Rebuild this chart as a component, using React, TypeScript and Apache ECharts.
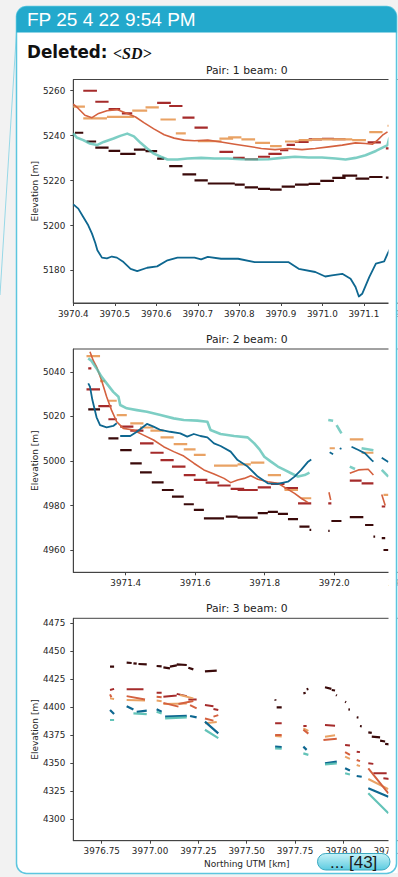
import React, { useEffect, useRef } from "react";
import * as echarts from "echarts";

type Pt = [number, number];
type Dash = [number, number, number]; // x start, x end, elevation
type Seg = [number, number, number, number]; // x0, y0, x1, y1

// ---------- Pair 1 ----------
const P1_XTICKS = [3970.4, 3970.5, 3970.6, 3970.7, 3970.8, 3970.9, 3971.0, 3971.1, 3971.2];
const P1_YTICKS = [5180, 5200, 5220, 5240, 5260];

const p1Maroon: Dash[] = [
  [3970.404, 3970.424, 5241.3], [3970.432, 3970.455, 5237.4], [3970.453, 3970.485, 5234.7],
  [3970.485, 3970.513, 5233.2], [3970.513, 3970.55, 5231.9], [3970.546, 3970.574, 5233.8],
  [3970.574, 3970.602, 5233.1], [3970.602, 3970.619, 5229.8], [3970.631, 3970.663, 5226.4],
  [3970.663, 3970.696, 5222.8], [3970.692, 3970.724, 5220.1], [3970.724, 3970.789, 5218.7],
  [3970.789, 3970.813, 5218.2], [3970.813, 3970.845, 5217.0], [3970.845, 3970.874, 5216.3],
  [3970.874, 3970.902, 5216.0], [3970.902, 3970.934, 5217.3], [3970.934, 3970.967, 5218.2],
  [3970.967, 3970.995, 5218.5], [3970.995, 3971.028, 5219.9], [3971.024, 3971.056, 5221.2],
  [3971.048, 3971.084, 5222.2], [3971.08, 3971.113, 5220.9], [3971.113, 3971.145, 5221.6],
  [3971.153, 3971.17, 5221.3],
];
const p1DarkRed: Dash[] = [
  [3970.424, 3970.457, 5260.0], [3970.453, 3970.485, 5255.1], [3970.485, 3970.513, 5251.8],
  [3970.517, 3970.542, 5249.9], [3970.602, 3970.635, 5254.6], [3970.631, 3970.663, 5253.2],
  [3970.663, 3970.692, 5248.0], [3970.692, 3970.724, 5243.6], [3970.752, 3970.785, 5232.8],
  [3970.785, 3970.813, 5230.1], [3970.813, 3970.845, 5229.5], [3970.845, 3970.874, 5230.6],
  [3970.87, 3970.902, 5231.9], [3970.898, 3970.918, 5233.5], [3970.914, 3970.934, 5235.9],
  [3970.934, 3970.967, 5237.2], [3970.967, 3970.999, 5238.3], [3970.999, 3971.028, 5238.6],
  [3971.024, 3971.056, 5238.4], [3971.109, 3971.141, 5237.0], [3971.153, 3971.17, 5234.3],
];
const p1Orange: Dash[] = [
  [3970.4, 3970.428, 5252.9], [3970.424, 3970.481, 5247.7], [3970.481, 3970.546, 5248.4],
  [3970.542, 3970.578, 5251.1], [3970.574, 3970.606, 5252.6], [3970.61, 3970.647, 5247.2],
  [3970.647, 3970.671, 5241.0], [3970.7, 3970.757, 5237.5], [3970.752, 3970.785, 5238.7],
  [3970.773, 3970.805, 5239.2], [3970.805, 3970.838, 5238.3], [3970.838, 3970.874, 5236.8],
  [3970.874, 3970.902, 5235.3], [3970.91, 3970.943, 5237.4], [3970.943, 3970.975, 5238.0],
  [3970.975, 3971.007, 5238.3], [3971.007, 3971.04, 5238.3], [3971.04, 3971.072, 5238.3],
  [3971.072, 3971.105, 5238.0], [3971.113, 3971.145, 5241.6], [3971.157, 3971.17, 5244.4],
];
const p1Coral: Pt[] = [
  [3970.4, 5254.0], [3970.412, 5252.1], [3970.428, 5249.1], [3970.445, 5248.0], [3970.461, 5249.9],
  [3970.481, 5251.1], [3970.505, 5251.6], [3970.53, 5249.9], [3970.55, 5248.3], [3970.57, 5245.8],
  [3970.594, 5243.0], [3970.619, 5240.4], [3970.643, 5238.9], [3970.667, 5238.0], [3970.692, 5237.7],
  [3970.724, 5238.0], [3970.756, 5237.2], [3970.789, 5236.2], [3970.821, 5235.3], [3970.853, 5234.3],
  [3970.886, 5233.8], [3970.918, 5234.3], [3970.951, 5233.8], [3970.983, 5234.3], [3971.015, 5235.0],
  [3971.048, 5235.8], [3971.08, 5236.8], [3971.104, 5236.5], [3971.121, 5236.2], [3971.133, 5238.0],
  [3971.145, 5240.2], [3971.157, 5241.7],
];
const p1Teal: Pt[] = [
  [3970.4, 5241.1], [3970.408, 5239.2], [3970.424, 5238.0], [3970.44, 5236.5], [3970.457, 5235.8],
  [3970.473, 5237.2], [3970.497, 5238.7], [3970.513, 5239.9], [3970.53, 5240.9], [3970.546, 5239.7],
  [3970.562, 5236.8], [3970.578, 5234.3], [3970.594, 5232.0], [3970.611, 5230.6], [3970.627, 5229.4],
  [3970.651, 5229.4], [3970.675, 5229.8], [3970.708, 5230.1], [3970.74, 5229.8], [3970.772, 5229.8],
  [3970.805, 5229.5], [3970.837, 5229.4], [3970.87, 5229.5], [3970.902, 5230.1], [3970.934, 5230.6],
  [3970.967, 5230.3], [3970.999, 5230.3], [3971.032, 5229.8], [3971.056, 5229.4], [3971.08, 5230.1],
  [3971.104, 5231.3], [3971.129, 5233.2], [3971.145, 5234.7], [3971.157, 5235.8], [3971.161, 5238.7],
  [3971.168, 5239.8],
];
const p1Blue: Pt[] = [
  [3970.4, 5209.4], [3970.412, 5207.5], [3970.424, 5203.8], [3970.436, 5200.1], [3970.445, 5196.4],
  [3970.453, 5192.2], [3970.458, 5189.0], [3970.469, 5185.7], [3970.481, 5185.4], [3970.493, 5186.2],
  [3970.505, 5185.7], [3970.521, 5183.7], [3970.538, 5180.7], [3970.554, 5179.7], [3970.578, 5181.2],
  [3970.602, 5181.8], [3970.627, 5184.5], [3970.651, 5185.7], [3970.692, 5185.7], [3970.708, 5184.9],
  [3970.724, 5186.0], [3970.756, 5185.2], [3970.797, 5185.2], [3970.837, 5183.7], [3970.886, 5183.7],
  [3970.918, 5183.7], [3970.943, 5180.7], [3970.983, 5179.3], [3971.007, 5177.3], [3971.023, 5177.8],
  [3971.048, 5178.5], [3971.068, 5176.3], [3971.08, 5172.6], [3971.088, 5168.4], [3971.096, 5169.6],
  [3971.113, 5177.0], [3971.129, 5183.0], [3971.149, 5184.0], [3971.157, 5187.4], [3971.165, 5190.4],
];

// ---------- Pair 2 ----------
const P2_XTICKS = [3971.4, 3971.6, 3971.8, 3972.0, 3972.2];
const P2_YTICKS = [4960, 4980, 5000, 5020, 5040];

const p2Maroon: Dash[] = [
  [3971.292, 3971.326, 5023.1], [3971.35, 3971.379, 5010.1], [3971.384, 3971.417, 5004.9],
  [3971.413, 3971.446, 4998.9], [3971.441, 3971.475, 4994.9], [3971.475, 3971.509, 4990.4],
  [3971.504, 3971.538, 4987.0], [3971.533, 3971.567, 4984.0], [3971.567, 3971.596, 4980.6],
  [3971.596, 3971.625, 4978.1], [3971.625, 3971.683, 4974.3], [3971.688, 3971.722, 4975.1],
  [3971.722, 3971.78, 4974.6], [3971.78, 3971.809, 4976.6], [3971.809, 3971.838, 4977.2],
  [3971.838, 3971.867, 4976.3], [3971.867, 3971.896, 4973.9], [3971.9, 3971.929, 4970.6],
  [3971.929, 3971.934, 4969.1], [3971.983, 3971.987, 4968.7], [3971.992, 3972.021, 4973.1],
  [3972.045, 3972.084, 4974.8], [3972.089, 3972.113, 4971.3], [3972.113, 3972.118, 4966.1],
  [3972.137, 3972.147, 4965.4], [3972.142, 3972.156, 4960.1],
];
const p2DarkRed: Dash[] = [
  [3971.292, 3971.301, 5041.5], [3971.287, 3971.326, 5032.1], [3971.321, 3971.359, 5024.6],
  [3971.35, 3971.374, 5018.7], [3971.384, 3971.422, 5015.4], [3971.413, 3971.451, 5013.6],
  [3971.441, 3971.48, 5007.9], [3971.471, 3971.509, 5003.7], [3971.5, 3971.538, 5000.4],
  [3971.533, 3971.572, 4997.5], [3971.567, 3971.601, 4993.7], [3971.596, 3971.635, 4991.5],
  [3971.63, 3971.669, 4990.3], [3971.664, 3971.702, 4989.0], [3971.702, 3971.741, 4987.5],
  [3971.722, 3971.78, 4987.0], [3971.78, 3971.818, 4988.2], [3971.818, 3971.857, 4989.7],
  [3971.857, 3971.896, 4987.8], [3971.896, 3971.934, 4981.0], [3971.983, 3971.992, 4981.0],
  [3972.045, 3972.079, 4991.2], [3972.079, 3972.113, 4990.0], [3972.137, 3972.147, 4979.6],
];
const p2Orange: Dash[] = [
  [3971.287, 3971.326, 5047.0], [3971.326, 3971.34, 5035.8], [3971.35, 3971.374, 5027.0],
  [3971.374, 3971.403, 5020.6], [3971.413, 3971.451, 5016.9], [3971.441, 3971.48, 5015.0],
  [3971.471, 3971.509, 5013.6], [3971.5, 3971.538, 5010.6], [3971.538, 3971.577, 5007.6],
  [3971.567, 3971.601, 5005.2], [3971.596, 3971.63, 5002.7], [3971.654, 3971.722, 4997.9],
  [3971.722, 3971.76, 4998.5], [3971.76, 3971.799, 4999.3], [3971.809, 3971.847, 4993.7],
  [3971.857, 3971.896, 4987.0], [3971.905, 3971.934, 4983.3], [3971.987, 3972.002, 5005.7],
  [3972.045, 3972.084, 5009.7], [3972.079, 3972.113, 5003.7], [3972.142, 3972.156, 4984.8],
];
const p2Coral: Pt[][] = [
  [
    [3971.297, 5049.0], [3971.306, 5045.2], [3971.316, 5042.2], [3971.33, 5036.3], [3971.345, 5028.8],
    [3971.359, 5022.8], [3971.374, 5017.6], [3971.393, 5014.6], [3971.422, 5013.9], [3971.451, 5011.6],
    [3971.48, 5009.4], [3971.509, 5006.4], [3971.538, 5004.2], [3971.567, 5002.2], [3971.596, 4999.0],
    [3971.625, 4996.0], [3971.654, 4994.2], [3971.683, 4992.2], [3971.702, 4990.3], [3971.722, 4991.5],
    [3971.741, 4992.2], [3971.76, 4993.4], [3971.78, 4991.8], [3971.809, 4990.7], [3971.838, 4990.0],
    [3971.867, 4987.3], [3971.886, 4985.5], [3971.905, 4983.3], [3971.925, 4981.3],
  ],
  [[3971.985, 4986.0], [3971.99, 4982.5]],
  [[3972.045, 4994.5], [3972.07, 4996.0], [3972.098, 4996.3], [3972.113, 4993.7]],
  [[3972.137, 4985.0], [3972.147, 4980.0]],
];
const p2Teal: Pt[][] = [
  [
    [3971.292, 5046.0], [3971.301, 5044.9], [3971.316, 5041.5], [3971.33, 5037.8], [3971.345, 5034.8],
    [3971.364, 5031.0], [3971.379, 5028.8], [3971.384, 5025.1], [3971.403, 5023.6], [3971.432, 5022.8],
    [3971.461, 5022.1], [3971.5, 5020.6], [3971.538, 5019.1], [3971.567, 5018.4], [3971.606, 5018.1],
    [3971.635, 5017.6], [3971.644, 5013.9], [3971.673, 5012.1], [3971.712, 5011.2], [3971.751, 5010.6],
    [3971.77, 5007.9], [3971.785, 5005.2], [3971.799, 5001.9], [3971.818, 4999.7], [3971.838, 4997.5],
    [3971.857, 4996.0], [3971.876, 4994.5], [3971.896, 4993.0], [3971.915, 4993.7], [3971.929, 4994.8],
  ],
  [[3971.983, 5018.4], [3971.997, 5018.0]],
  [[3972.007, 5016.1], [3972.021, 5012.4]],
  [[3972.045, 4997.5], [3972.06, 4996.4]],
  [[3972.079, 5005.7], [3972.113, 5004.8]],
  [[3972.137, 4996.0], [3972.156, 4993.0]],
];
const p2Blue: Pt[][] = [
  [
    [3971.292, 5034.8], [3971.297, 5033.3], [3971.304, 5027.3], [3971.316, 5019.6], [3971.326, 5016.1],
    [3971.345, 5015.1], [3971.364, 5015.7], [3971.374, 5016.9],
  ],
  [
    [3971.384, 5011.2], [3971.413, 5011.2], [3971.432, 5013.1], [3971.461, 5016.6], [3971.48, 5015.4],
    [3971.5, 5013.9], [3971.528, 5013.1], [3971.557, 5012.4], [3971.577, 5010.9], [3971.596, 5012.1],
    [3971.615, 5011.2], [3971.635, 5010.6], [3971.654, 5007.9], [3971.673, 5006.7], [3971.702, 5004.2],
    [3971.722, 5000.4], [3971.751, 4997.5], [3971.78, 4993.0], [3971.809, 4990.0], [3971.838, 4989.7],
    [3971.867, 4990.7], [3971.886, 4993.0], [3971.905, 4996.0], [3971.925, 4999.7], [3971.934, 5000.7],
  ],
  [[3971.987, 5003.9], [3971.997, 5003.0]],
  [[3972.016, 5005.7], [3972.021, 5005.4]],
  [[3972.05, 5006.4], [3972.07, 5004.9], [3972.089, 5003.4], [3972.108, 5000.4], [3972.113, 4999.7]],
  [[3972.137, 5001.5], [3972.156, 4999.5]],
];

// ---------- Pair 3 ----------
const P3_XTICKS = [3976.75, 3977.0, 3977.25, 3977.5, 3977.75, 3978.0, 3978.25];
const P3_YTICKS = [4300, 4325, 4350, 4375, 4400, 4425, 4450, 4475];

const p3Maroon: Seg[] = [
  [3976.793, 4436.3, 3976.814, 4436.3], [3976.879, 4439.9, 3976.905, 4439.6], [3976.914, 4439.3, 3976.931, 4439.0],
  [3976.94, 4438.7, 3976.983, 4438.4], [3977.034, 4436.9, 3977.06, 4436.6], [3977.069, 4435.7, 3977.103, 4434.8],
  [3977.103, 4436.3, 3977.138, 4437.5], [3977.138, 4438.4, 3977.19, 4437.8], [3977.198, 4435.4, 3977.224, 4433.9],
  [3977.284, 4432.1, 3977.345, 4432.7], [3977.647, 4407.1, 3977.65, 4406.0], [3977.655, 4400.0, 3977.681, 4400.0],
  [3977.793, 4412.5, 3977.805, 4413.0], [3977.81, 4416.0, 3977.819, 4416.5], [3977.905, 4417.9, 3977.938, 4416.5],
  [3977.94, 4415.5, 3977.957, 4415.0], [3977.962, 4411.0, 3977.966, 4410.5], [3978.009, 4405.0, 3978.014, 4404.5],
  [3978.026, 4398.2, 3978.034, 4398.0], [3978.069, 4391.1, 3978.078, 4390.8], [3978.086, 4383.3, 3978.095, 4383.0],
  [3978.129, 4377.7, 3978.147, 4377.2], [3978.147, 4373.8, 3978.19, 4373.2], [3978.19, 4370.2, 3978.216, 4369.5],
  [3978.216, 4367.3, 3978.24, 4367.0],
];
const p3DarkRed: Seg[] = [
  [3976.793, 4415.5, 3976.814, 4416.5], [3976.879, 4416.1, 3976.966, 4416.1], [3977.034, 4413.1, 3977.06, 4413.1],
  [3977.069, 4409.5, 3977.138, 4410.5], [3977.138, 4412.0, 3977.19, 4410.0], [3977.198, 4407.1, 3977.241, 4407.1],
  [3977.284, 4402.0, 3977.328, 4401.0], [3977.328, 4398.5, 3977.353, 4397.6], [3977.647, 4385.7, 3977.681, 4385.7],
  [3977.793, 4383.3, 3977.81, 4383.3], [3977.905, 4384.2, 3977.957, 4383.5], [3978.009, 4366.4, 3978.034, 4366.0],
  [3978.069, 4360.4, 3978.086, 4360.0], [3978.129, 4350.0, 3978.155, 4349.5], [3978.155, 4341.1, 3978.224, 4341.1],
  [3978.207, 4336.6, 3978.24, 4336.0],
];
const p3Coral: Seg[] = [
  [3976.793, 4411.6, 3976.8, 4409.0], [3976.879, 4410.0, 3976.974, 4407.0], [3977.034, 4409.5, 3977.06, 4409.0],
  [3977.069, 4404.0, 3977.147, 4400.6], [3977.147, 4403.0, 3977.224, 4405.7], [3977.207, 4402.0, 3977.241, 4399.1],
  [3977.284, 4390.0, 3977.328, 4388.1], [3977.328, 4391.7, 3977.353, 4393.0], [3977.647, 4375.3, 3977.681, 4375.3],
  [3977.793, 4380.0, 3977.819, 4376.5], [3977.897, 4370.8, 3977.966, 4372.0], [3978.009, 4360.0, 3978.034, 4357.5],
  [3978.069, 4353.0, 3978.086, 4352.0], [3978.129, 4345.5, 3978.233, 4323.2],
];
const p3Orange: Seg[] = [
  [3976.793, 4408.0, 3976.814, 4407.5], [3976.879, 4406.5, 3976.974, 4406.0], [3977.034, 4406.0, 3977.06, 4405.5],
  [3977.069, 4403.0, 3977.19, 4403.5], [3977.155, 4411.0, 3977.224, 4408.0], [3977.284, 4385.7, 3977.345, 4387.0],
  [3977.647, 4374.4, 3977.681, 4374.0], [3977.793, 4381.3, 3977.819, 4379.0], [3977.905, 4373.8, 3977.957, 4375.0],
  [3978.009, 4356.0, 3978.034, 4354.0], [3978.069, 4348.5, 3978.086, 4347.5], [3978.129, 4336.0, 3978.233, 4327.0],
];
const p3Blue: Seg[] = [
  [3976.793, 4397.6, 3976.814, 4394.0], [3976.879, 4401.0, 3976.914, 4398.0], [3976.931, 4396.0, 3976.983, 4397.0],
  [3977.034, 4398.2, 3977.06, 4396.0], [3977.078, 4391.7, 3977.19, 4392.3], [3977.207, 4392.3, 3977.241, 4391.0],
  [3977.284, 4387.2, 3977.353, 4376.8], [3977.647, 4364.9, 3977.681, 4364.5], [3977.793, 4364.9, 3977.81, 4362.0],
  [3977.905, 4350.0, 3977.966, 4351.5], [3978.009, 4345.5, 3978.034, 4343.5], [3978.069, 4338.7, 3978.095, 4338.0],
  [3978.129, 4327.7, 3978.233, 4320.2],
];
const p3Teal: Seg[] = [
  [3976.793, 4388.7, 3976.814, 4388.7], [3976.914, 4394.6, 3976.983, 4394.0], [3977.034, 4396.1, 3977.06, 4394.5],
  [3977.078, 4390.2, 3977.19, 4391.0], [3977.284, 4380.0, 3977.353, 4372.5], [3977.647, 4363.4, 3977.681, 4363.0],
  [3977.793, 4358.9, 3977.819, 4357.5], [3977.905, 4349.0, 3977.966, 4350.0], [3978.009, 4341.1, 3978.034, 4340.0],
  [3978.129, 4323.2, 3978.233, 4305.4],
];

const TITLES = ["Pair: 1 beam: 0", "Pair: 2 beam: 0", "Pair: 3 beam: 0"];

// ---------- styling ----------
const C = {
  maroon: "#3a0a0a",
  darkRed: "#a52b2b",
  coral: "#d4613f",
  orange: "#e9a264",
  teal: "#52bdb0",
  blue: "#0e6790",
};
const FONT = '"DejaVu Sans", sans-serif';
const PLOT_LEFT = 73.3;
const PLOT_W = 347;
const LAYOUT = [
  { top: 79.5, height: 223.5, x: [3970.4, 3971.236], y: [5165.5, 5265], xt: P1_XTICKS, yt: P1_YTICKS, dec: 1, titleY: 70 },
  { top: 349, height: 223.3, x: [3971.249, 3972.248], y: [4950.1, 5050.2], xt: P2_XTICKS, yt: P2_YTICKS, dec: 1, titleY: 339 },
  { top: 618.3, height: 222.4, x: [3976.603, 3978.398], y: [4280.9, 4479.5], xt: P3_XTICKS, yt: P3_YTICKS, dec: 2, titleY: 608 },
];

const GAP: Pt = [NaN, NaN];
function dashData(d: Dash[]): Pt[] {
  const out: Pt[] = [];
  d.forEach(([x0, x1, y]) => out.push([x0, y], [x1, y], GAP));
  return out;
}
function segData(s: Seg[]): Pt[] {
  const out: Pt[] = [];
  s.forEach(([x0, y0, x1, y1]) => out.push([x0, y0], [x1, y1], GAP));
  return out;
}
function runData(r: Pt[][]): Pt[] {
  const out: Pt[] = [];
  r.forEach((run) => out.push(...run, GAP));
  return out;
}
function line(panel: number, data: Pt[], color: string, width: number, opacity = 1) {
  return {
    type: "line",
    xAxisIndex: panel,
    yAxisIndex: panel,
    data,
    symbol: "none",
    showSymbol: false,
    connectNulls: false,
    silent: true,
    clip: true,
    lineStyle: { color, width, opacity, cap: "butt", join: "round" },
  };
}

export default function App() {
  const ref = useRef<HTMLDivElement>(null);

  useEffect(() => {
    if (!ref.current) return;
    const chart = echarts.init(ref.current, undefined, { renderer: "svg" });

    const grids = LAYOUT.map((p) => ({
      left: PLOT_LEFT,
      top: p.top,
      width: PLOT_W,
      height: p.height,
      containLabel: false,
      outerBoundsMode: "none",
      show: true,
      borderColor: "#444",
      borderWidth: 1,
      backgroundColor: "transparent",
    }));

    const axisCommon = {
      type: "value",
      axisLine: { show: true, onZero: false, lineStyle: { color: "#444", width: 1 } },
      splitLine: { show: false },
    };

    const xAxes = LAYOUT.map((p, i) => ({
      ...axisCommon,
      gridIndex: i,
      min: p.x[0],
      max: p.x[1],
      axisTick: { show: true, inside: false, length: 3, customValues: p.xt, lineStyle: { color: "#444" } },
      axisLabel: {
        customValues: p.xt,
        margin: 6,
        fontSize: 8.8,
        fontFamily: FONT,
        color: "#262626",
        hideOverlap: false,
        formatter: (v: number) => v.toFixed(p.dec),
      },
      name: i === 2 ? "Northing UTM [km]" : "",
      nameLocation: "middle",
      nameGap: 19,
      nameMoveOverlap: false,
      nameTextStyle: { fontSize: 9, fontFamily: FONT, color: "#262626" },
    }));

    const yAxes = LAYOUT.map((p, i) => ({
      ...axisCommon,
      gridIndex: i,
      min: p.y[0],
      max: p.y[1],
      axisTick: { show: true, inside: false, length: 3, customValues: p.yt, lineStyle: { color: "#444" } },
      axisLabel: {
        customValues: p.yt,
        margin: 8,
        fontSize: 8.8,
        fontFamily: FONT,
        color: "#262626",
        formatter: (v: number) => String(v),
      },
      name: "Elevation [m]",
      nameLocation: "middle",
      nameGap: 34,
      nameMoveOverlap: false,
      nameTextStyle: { fontSize: 9, fontFamily: FONT, color: "#262626" },
    }));

    const series = [
      line(0, dashData(p1Maroon), C.maroon, 2.2),
      line(0, dashData(p1DarkRed), C.darkRed, 2.2),
      line(0, dashData(p1Orange), C.orange, 2.2),
      line(0, p1Coral, C.coral, 1.6),
      line(0, p1Teal, C.teal, 2.6, 0.75),
      line(0, p1Blue, C.blue, 1.8),

      line(1, dashData(p2Maroon), C.maroon, 2.2),
      line(1, dashData(p2DarkRed), C.darkRed, 2.2),
      line(1, dashData(p2Orange), C.orange, 2.2),
      line(1, runData(p2Coral), C.coral, 1.6),
      line(1, runData(p2Teal), C.teal, 2.6, 0.75),
      line(1, runData(p2Blue), C.blue, 1.8),

      line(2, segData(p3Maroon), C.maroon, 2.2),
      line(2, segData(p3DarkRed), C.darkRed, 2),
      line(2, segData(p3Orange), C.orange, 2),
      line(2, segData(p3Coral), C.coral, 2),
      line(2, segData(p3Blue), C.blue, 2.2),
      line(2, segData(p3Teal), C.teal, 2.2, 0.9),
    ];

    const titleTexts = LAYOUT.map((p, i) => ({
      type: "text",
      z: 10,
      style: {
        text: TITLES[i],
        x: PLOT_LEFT + PLOT_W / 2,
        y: p.titleY,
        textAlign: "center",
        textVerticalAlign: "middle",
        fontSize: 10.8,
        fontFamily: FONT,
        fill: "#222",
      },
    }));

    chart.setOption({
      animation: false,
      grid: grids,
      xAxis: xAxes,
      yAxis: yAxes,
      series,
      graphic: {
        elements: [
          // page and card
          { type: "rect", z: -100, shape: { x: 0, y: 0, width: 398, height: 877 }, style: { fill: "#f2f2f2" } },
          { type: "line", z: -95, shape: { x1: 16.5, y1: 32, x2: 0, y2: 295 }, style: { stroke: "#97d8e7", lineWidth: 1 } },
          { type: "rect", z: -90, shape: { x: 16.5, y: 6.5, width: 380, height: 867, r: 10 }, style: { fill: "#ffffff" } },
          // right margin of the card body, over the plot overflow
          { type: "rect", z: 50, shape: { x: 388.5, y: 33, width: 9, height: 840 }, style: { fill: "#ffffff" } },
          { type: "rect", z: 60, shape: { x: 16.5, y: 6.5, width: 380, height: 867, r: 10 }, style: { fill: "none", stroke: "#5cc6df", lineWidth: 1.5 } },
          // header
          { type: "rect", z: 61, shape: { x: 16.5, y: 6.5, width: 380, height: 26, r: [10, 10, 0, 0] }, style: { fill: "#23a9cc" } },
          {
            type: "text",
            z: 62,
            style: { text: "FP 25 4 22 9:54 PM", x: 27, y: 19.5, textVerticalAlign: "middle", fontSize: 19, fontFamily: '"Liberation Sans", Arial, sans-serif', fill: "#ffffff" },
          },
          {
            type: "text",
            z: 62,
            style: { text: "Deleted:", x: 27, y: 52, textVerticalAlign: "middle", fontSize: 16.8, fontWeight: "bold", fontFamily: FONT, fill: "#111" },
          },
          {
            type: "text",
            z: 62,
            style: { text: "<SD>", x: 113, y: 53.5, textVerticalAlign: "middle", fontSize: 16, fontWeight: "bold", fontStyle: "italic", fontFamily: '"Liberation Serif", "DejaVu Serif", serif', fill: "#111" },
          },
          ...titleTexts,
          // "more" button
          {
            type: "rect",
            z: 70,
            shape: { x: 317.5, y: 853.5, width: 72.5, height: 16.5, r: 8.25 },
            style: {
              fill: new echarts.graphic.LinearGradient(0, 0, 0, 1, [
                { offset: 0, color: "#c6f2f8" },
                { offset: 1, color: "#5ccbe0" },
              ]),
              stroke: "#3aa8c0",
              lineWidth: 1,
            },
          },
          {
            type: "text",
            z: 71,
            style: { text: "... [43]", x: 353.7, y: 862, textAlign: "center", textVerticalAlign: "middle", fontSize: 17, fontFamily: '"Liberation Sans", Arial, sans-serif', fill: "#1a1a1a" },
          },
        ],
      },
    });

    return () => chart.dispose();
  }, []);

  return <div ref={ref} style={{ position: "absolute", left: 0, top: 0, width: 398, height: 877 }} />;
}
